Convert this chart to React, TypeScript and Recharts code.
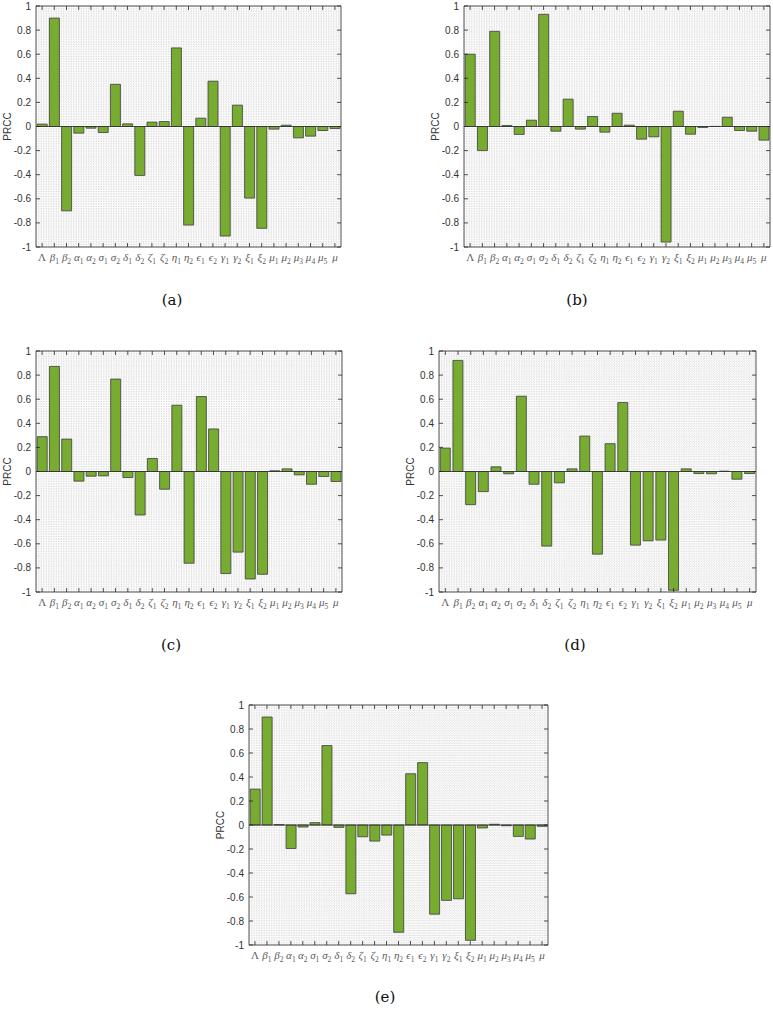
import { BarChart, Bar, XAxis, YAxis, CartesianGrid, ReferenceLine } from "recharts";

const categories = [
  "Λ", "β_1", "β_2", "α_1", "α_2", "σ_1", "σ_2", "δ_1", "δ_2", "ζ_1", "ζ_2", "η_1", "η_2",
  "ϵ_1", "ϵ_2", "γ_1", "γ_2", "ξ_1", "ξ_2", "μ_1", "μ_2", "μ_3", "μ_4", "μ_5", "μ",
];

const prccA = [
  0.02, 0.9, -0.7, -0.055, -0.014, -0.05, 0.35, 0.022, -0.406, 0.036, 0.041, 0.652, -0.818,
  0.069, 0.376, -0.909, 0.177, -0.594, -0.845, -0.022, 0.011, -0.094, -0.08, -0.033, -0.017,
];
const prccB = [
  0.6, -0.2, 0.79, 0.008, -0.066, 0.052, 0.931, -0.039, 0.227, -0.022, 0.083, -0.047, 0.11,
  0.011, -0.105, -0.086, -0.959, 0.127, -0.064, -0.008, 0.001, 0.077, -0.033, -0.039, -0.113,
];
const prccC = [
  0.289, 0.872, 0.269, -0.08, -0.039, -0.036, 0.767, -0.05, -0.361, 0.108, -0.147, 0.55, -0.761,
  0.622, 0.353, -0.847, -0.669, -0.892, -0.853, 0.006, 0.022, -0.028, -0.106, -0.042, -0.083,
];
const prccD = [
  0.194, 0.922, -0.275, -0.167, 0.039, -0.019, 0.625, -0.106, -0.619, -0.094, 0.022, 0.294, -0.686,
  0.231, 0.572, -0.611, -0.575, -0.569, -0.986, 0.022, -0.017, -0.019, 0.003, -0.064, -0.017,
];
const prccE = [
  0.299, 0.9, 0.003, -0.196, -0.017, 0.02, 0.662, -0.02, -0.573, -0.098, -0.134, -0.084, -0.894,
  0.427, 0.52, -0.743, -0.628, -0.615, -0.961, -0.025, 0.006, -0.006, -0.095, -0.117, -0.011,
];

const yTicks = [-1, -0.8, -0.6, -0.4, -0.2, 0, 0.2, 0.4, 0.6, 0.8, 1];

// fine "grid minor" look of the original
const minorY: number[] = [];
for (let i = 0; i <= 100; i++) minorY.push(Math.round((-1 + i * 0.02) * 100) / 100);

const AXIS = "#262626";
const SERIF = "'Liberation Serif', 'DejaVu Serif', serif";
const CAPTION_FONT = "'DejaVu Serif', 'Liberation Serif', serif";
const SANS = "'Liberation Sans', Arial, sans-serif";
const YW = 36;
const TOP = 6;

const panels = [
  { values: prccA, plotLeft: 36, plotTop: 6, plotW: 305, plotH: 241, caption: "(a)", capX: 172, capY: 300 },
  { values: prccB, plotLeft: 464, plotTop: 6, plotW: 306, plotH: 241, caption: "(b)", capX: 577, capY: 300 },
  { values: prccC, plotLeft: 36, plotTop: 351, plotW: 306, plotH: 241, caption: "(c)", capX: 171, capY: 645 },
  { values: prccD, plotLeft: 439, plotTop: 351, plotW: 317, plotH: 241, caption: "(d)", capX: 575, capY: 645 },
  { values: prccE, plotLeft: 249, plotTop: 705, plotW: 299, plotH: 240, caption: "(e)", capX: 385, capY: 997 },
];

const YTick = (p: any) => {
  const { x, y, payload, plotW } = p;
  return (
    <g>
      <line x1={x} x2={x + 4} y1={y} y2={y} stroke={AXIS} strokeWidth={0.8} />
      <line x1={x + plotW - 4} x2={x + plotW} y1={y} y2={y} stroke={AXIS} strokeWidth={0.8} />
      <text
        x={x - 5}
        y={y}
        textAnchor="end"
        dominantBaseline="central"
        fontSize={10}
        fill="#333"
        style={{ fontFamily: SANS }}
      >
        {payload.value}
      </text>
    </g>
  );
};

const XTick = (p: any) => {
  const { x, y, payload, plotH } = p;
  const [base, sub] = String(payload.value).split("_");
  return (
    <g>
      <line x1={x} x2={x} y1={y} y2={y - 4} stroke={AXIS} strokeWidth={0.8} />
      <line x1={x} x2={x} y1={y - plotH} y2={y - plotH + 4} stroke={AXIS} strokeWidth={0.8} />
      <text x={x} y={y + 14} textAnchor="middle" fill="#5a5a5a" style={{ fontFamily: SERIF }}>
        <tspan fontSize={11} fontStyle={base === "Λ" ? "normal" : "italic"}>{base}</tspan>
        {sub && (
          <tspan fontSize={7.5} dy={3}>
            {sub}
          </tspan>
        )}
      </text>
    </g>
  );
};

const yLabel = (props: any) => {
  const vb = props.viewBox || { x: 0, y: 0, height: 0 };
  const cx = vb.x + 7;
  const cy = vb.y + vb.height / 2;
  return (
    <text
      x={cx}
      y={cy}
      transform={`rotate(-90 ${cx} ${cy})`}
      textAnchor="middle"
      dominantBaseline="central"
      fontSize={10}
      fill="#333"
      style={{ fontFamily: SANS }}
    >
      PRCC
    </text>
  );
};

const Panel = ({ panel }: { panel: (typeof panels)[number] }) => {
  const { values, plotLeft, plotTop, plotW, plotH } = panel;
  const data = categories.map((name, i) => ({ name, v: values[i] }));
  const width = YW + plotW + 4;
  const height = TOP + plotH + 30;
  return (
    <div style={{ position: "absolute", left: plotLeft - YW, top: plotTop - TOP }}>
      <BarChart
        width={width}
        height={height}
        data={data}
        margin={{ top: TOP, right: 4, bottom: 0, left: 0 }}
        barCategoryGap="10%"
      >
        <CartesianGrid
          fill="#fbfbfb"
          stroke="#cfcfcf"
          strokeWidth={0.6}
          strokeDasharray="1 1.5"
          horizontalValues={minorY}
          verticalCoordinatesGenerator={({ offset }: any) => {
            const pts: number[] = [];
            const n = Math.round(offset.width / 2.5);
            for (let i = 1; i < n; i++) pts.push(offset.left + (i * offset.width) / n);
            return pts;
          }}
        />
        <CartesianGrid
          stroke={AXIS}
          strokeWidth={0.8}
          horizontalPoints={[TOP]}
          verticalPoints={[YW + plotW]}
        />
        <XAxis
          dataKey="name"
          height={30}
          interval={0}
          tickSize={0}
          tickMargin={0}
          tickLine={false}
          axisLine={{ stroke: AXIS, strokeWidth: 0.8 }}
          tick={(p: any) => <XTick {...p} plotH={plotH} />}
        />
        <YAxis
          width={YW}
          domain={[-1, 1]}
          ticks={yTicks}
          interval={0}
          tickSize={0}
          tickMargin={0}
          tickLine={false}
          axisLine={{ stroke: AXIS, strokeWidth: 0.8 }}
          tick={(p: any) => <YTick {...p} plotW={plotW} />}
          label={{ content: yLabel }}
        />
        <ReferenceLine y={0} stroke="#333" strokeWidth={0.9} />
        <Bar dataKey="v" fill="#77AC30" stroke="#3d3d3d" strokeWidth={0.8} isAnimationActive={false} />
      </BarChart>
    </div>
  );
};

export default function App() {
  return (
    <div
      style={{
        position: "absolute",
        left: 0,
        top: 0,
        width: 773,
        height: 1010,
        background: "#fff",
        overflow: "hidden",
      }}
    >
      {panels.map((p) => (
        <Panel key={p.caption} panel={p} />
      ))}
      {panels.map((p) => (
        <div
          key={"cap" + p.caption}
          style={{
            position: "absolute",
            left: p.capX,
            top: p.capY,
            transform: "translate(-50%, -50%)",
            fontFamily: CAPTION_FONT,
            fontSize: 15,
            color: "#111",
          }}
        >
          {p.caption}
        </div>
      ))}
    </div>
  );
}
